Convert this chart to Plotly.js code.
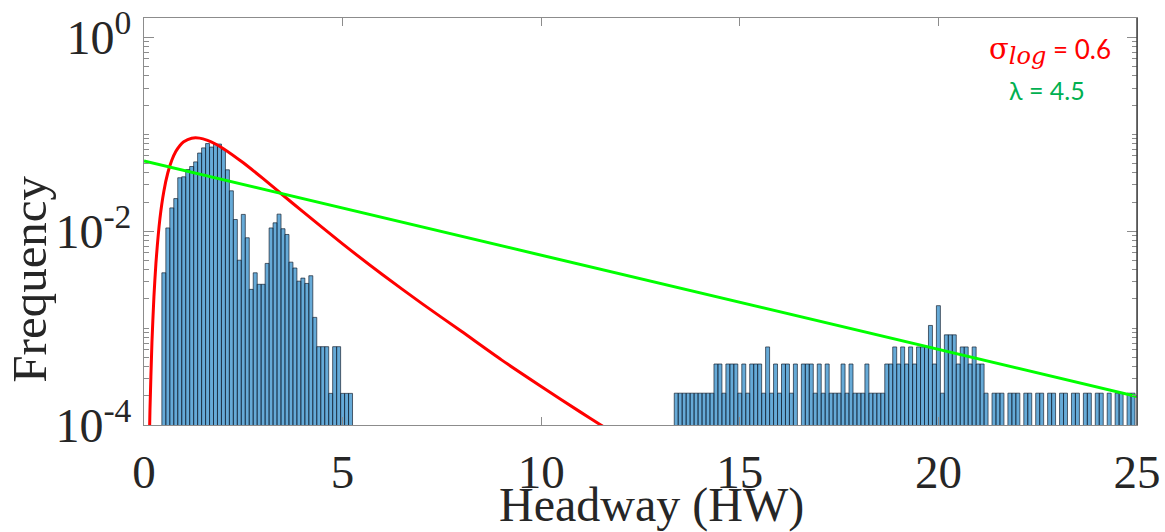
<!DOCTYPE html>
<html>
<head>
<meta charset="utf-8">
<script src="https://cdn.plot.ly/plotly-3.0.1.min.js"></script>
<style>html,body{margin:0;padding:0;background:#fff;}#chart{width:1165px;height:532px;}</style>
</head>
<body>
<div id="chart"></div>
<script>
// ---- data ----
const binWidth = 0.1;
const leftStart = 0.5;     // centre of first bin of the left group
const leftFreq = [0.00372,0.0108,0.0174,0.0217,0.0356,0.0364,0.0433,0.0465,0.0519,0.0640,
  0.0724,0.0802,0.0738,0.0793,0.0793,0.0695,0.0430,0.0261,0.0132,0.00502,
  0.0149,0.00855,0.00251,0.00372,0.00283,0.00283,0.00465,0.0108,0.0122,0.0150,
  0.0106,0.00925,0.00479,0.00417,0.00305,0.00328,0.00289,0.00347,0.00129,0.000643,
  0.000643,0.000643,0.000212,0.000643,0.000643,0.000212,0.000212,0.000212];
const rightStart = 13.4;   // centre of first bin of the right group
const freqPerCount = 2.13e-4;
const rightCounts = [1,1,1,1,1,1,1,1,1,1, 2,2,1,2,2,2,1,2,1,2,
  2,2,1,3,1,2,1,2,2,1, 2,0,2,2,2,1,2,1,2,1, 1,1,2,1,2,1,1,1,2,1,
  1,1,1,2,2,3,2,3,2,3, 2,3,3,3,5,2,8,1,4,4, 4,2,3,3,2,3,2,2,1,0,
  1,1,1,0,1,1,1,0,1,1, 0,1,1,0,1,1,0,1,1,0, 1,1,0,1,1,0,1,1,0,1, 0,1,1,0,1,1,0];
const redX = [0.12,0.15,0.2,0.25,0.3,0.4,0.5,0.6,0.7,0.8,0.9,1.0,1.2,1.4,1.6,1.8,2.0,2.5,3,3.5,4,5,6,7,8,9,10,11,11.5,12];
const redY = [3.5e-5,1.42e-4,7.1e-4,2.11e-3,4.65e-3,0.0134,0.0259,0.0401,0.054,0.0663,0.0763,0.0836,0.0911,0.0913,0.0866,0.0794,0.0711,0.0508,0.0348,0.0235,0.0159,0.0074,0.00357,0.00179,9.2e-4,4.7e-4,2.5e-4,1.35e-4,1.0e-4,7.5e-5];
const greenX = [0, 25];
const greenY = [0.053, 1.97e-4];
const xTicks = [0,5,10,15,20,25];
const yTickVals = [1e-4,1e-2,1];
const yTickText = ['10<sup>-4</sup>','10<sup>-2</sup>','10<sup>0</sup>'];
const xTitle = 'Headway (HW)';
const yTitle = 'Frequency';
const sigmaLabel = '<span style="font-family:DejaVu Serif;font-size:29px">σ</span><sub><span style="font-family:DejaVu Serif;font-style:italic;font-size:24px">log</span></sub> = 0.6';
const lambdaLabel = 'λ = 4.5';

// ---- build traces ----
const barX = [], barY = [];
leftFreq.forEach((v,i)=>{ barX.push(+(leftStart+i*binWidth).toFixed(2)); barY.push(v); });
rightCounts.forEach((c,i)=>{ if(c>0){ barX.push(+(rightStart+i*binWidth).toFixed(2)); barY.push(c*freqPerCount); } });

const minorVals = [];
for (let e=-4; e<0; e++) for (let d=1; d<10; d++) { const v=d*Math.pow(10,e); if(!(d===1 && (e===-4||e===-2))) minorVals.push(v); }

const traces = [
  {type:'bar', x:barX, y:barY, width:binWidth,
   marker:{color:'rgba(0,114,189,0.6)', line:{color:'rgba(20,30,45,0.85)', width:0.8}},
   hoverinfo:'x+y', showlegend:false},
  {type:'scatter', mode:'lines', x:redX, y:redY, line:{color:'#ff0000', width:3, shape:'spline', smoothing:0.6}, showlegend:false},
  {type:'scatter', mode:'lines', x:greenX, y:greenY, line:{color:'#00ff00', width:3}, showlegend:false}
];

const axisCol = '#8c8c8c';
const txtCol = '#262626';
const layout = {
  width:1165, height:532,
  margin:{l:144, r:28, t:18, b:107},
  paper_bgcolor:'#fff', plot_bgcolor:'#fff',
  bargap:0,
  xaxis:{range:[0,25], tickvals:xTicks, ticks:'inside', ticklen:8, tickcolor:axisCol,
    showline:true, linecolor:axisCol, linewidth:1, mirror:'ticks', showgrid:false, zeroline:false,
    tickfont:{family:'Liberation Serif', size:47, color:txtCol}, ticklabelstandoff:6},
  yaxis:{type:'log', range:[-4,0.2], tickvals:yTickVals, ticktext:yTickText, ticks:'inside', ticklen:10, tickcolor:axisCol,
    showline:true, linecolor:axisCol, linewidth:1, mirror:'ticks', showgrid:false, zeroline:false,
    tickfont:{family:'Liberation Serif', size:48, color:txtCol}, ticklabelstandoff:2,
    minor:{tickmode:'array', tickvals:minorVals, ticks:'inside', ticklen:5, tickcolor:axisCol, showgrid:false}},
  shapes:[{type:'line', xref:'paper', yref:'paper', x0:1, x1:1, y0:0, y1:1, line:{color:'#444', width:1.5}}],
  annotations:[
    {xref:'paper', yref:'paper', x:0.5106, y:-0.197, xanchor:'center', yanchor:'middle', showarrow:false,
     text:xTitle, font:{family:'Liberation Serif', size:48, color:txtCol}},
    {xref:'paper', yref:'paper', x:-0.115, y:0.359, xanchor:'center', yanchor:'middle', showarrow:false, textangle:-90,
     text:yTitle, font:{family:'Liberation Serif', size:49, color:txtCol}},
    {xref:'paper', yref:'paper', x:0.849, y:0.918, xanchor:'left', yanchor:'middle', showarrow:false,
     text:sigmaLabel, font:{family:'Lato', size:26, color:'#ff0000'}},
    {xref:'paper', yref:'paper', x:0.869, y:0.823, xanchor:'left', yanchor:'middle', showarrow:false,
     text:lambdaLabel, font:{family:'Lato', size:25, color:'#00b050'}}
  ]
};
Plotly.newPlot('chart', traces, layout, {staticPlot:true});
</script>
</body>
</html>
